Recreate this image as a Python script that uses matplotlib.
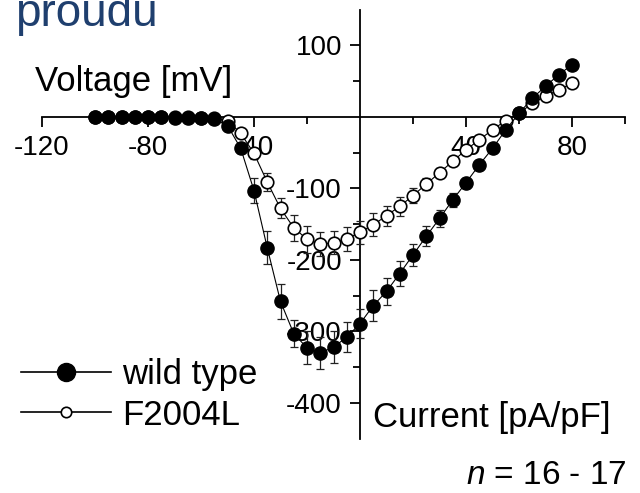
import matplotlib.pyplot as plt
import numpy as np
from matplotlib.lines import Line2D

plt.rcParams['font.family'] = ['Liberation Sans', 'DejaVu Sans']
plt.rcParams['mathtext.fontset'] = 'custom'
plt.rcParams['mathtext.it'] = 'Liberation Sans:italic'
plt.rcParams['mathtext.rm'] = 'Liberation Sans'
plt.rcParams['axes.unicode_minus'] = False

# membrane voltage steps (mV)
voltage = np.arange(-100, 85, 5)

# current density (pA/pF)
wt_current = [0, 0, 0, 0, 0, 0, -1, -1, -2, -3,
              -12, -44, -103, -183, -258, -303, -323, -330, -322, -308,
              -289, -264, -244, -219, -193, -167, -142, -116, -92, -67,
              -44, -18, 5, 26, 43, 59, 73]
wt_err = [2] * 10 + [4, 6, 17, 23, 25, 19, 23, 22, 22, 21,
                     20, 22, 19, 17, 16, 14, 12, 10, 7, 6,
                     5, 4, 4, 4, 4, 4, 4]

mut_current = [0, 0, 0, 0, 0, 0, 0, 0, -1, -2,
               -5, -23, -51, -91, -128, -155, -171, -178, -176, -171,
               -161, -151, -138, -125, -110, -94, -78, -62, -46, -32,
               -18, -5, 5, 19, 29, 38, 47]
mut_err = [2] * 10 + [3, 5, 8, 13, 14, 18, 19, 17, 16, 17,
                      16, 16, 14, 13, 10, 8, 6, 5, 4, 4,
                      4, 4, 4, 4, 4, 4, 4]

series_names = ['wild type', 'F2004L']

fig = plt.figure(figsize=(6.4, 4.93), dpi=100)
ax = fig.add_axes([42 / 640, (493 - 438.7) / 493, 583 / 640, 429 / 493])
ax.set_xlim(-120, 100)
ax.set_ylim(-450, 150)

# mutant first, wild type drawn over it (hides the flat part)
ax.errorbar(voltage, mut_current, yerr=mut_err, fmt='none', ecolor='#222222',
            elinewidth=0.9, capsize=3, capthick=0.9, zorder=3)
ax.plot(voltage, mut_current, '-o', color='black', lw=0.8, ms=9,
        mfc='white', mec='black', mew=1.2, zorder=4)
ax.errorbar(voltage, wt_current, yerr=wt_err, fmt='none', ecolor='#222222',
            elinewidth=0.9, capsize=3, capthick=0.9, zorder=5)
ax.plot(voltage, wt_current, '-o', color='black', lw=0.8, ms=9.5,
        mfc='black', mec='black', zorder=6)

# axes crossing at the origin
for s in ['top', 'right']:
    ax.spines[s].set_visible(False)
ax.spines['left'].set_position(('data', 0))
ax.spines['bottom'].set_position(('data', 0))
ax.spines['left'].set_bounds(-450, 150)
ax.spines['bottom'].set_bounds(-120, 100)
for s in ['left', 'bottom']:
    ax.spines[s].set_linewidth(1.3)

ax.set_xticks([-120, -80, -40, 40, 80])
ax.set_xticks([-100, -60, -20, 20, 60, 100], minor=True)
ax.set_yticks([100, -100, -200, -300, -400])
ax.set_yticks([50, -50, -150, -250, -350], minor=True)
ax.tick_params(which='major', direction='out', length=7, width=1.3,
               labelsize=20, pad=6)
ax.tick_params(which='minor', direction='out', length=5, width=1.3)
ax.patch.set_visible(False)

fig.text(35 / 640, 1 - 91 / 493, 'Voltage [mV]', fontsize=25, va='baseline')
fig.text(373 / 640, 1 - 427 / 493, 'Current [pA/pF]', fontsize=25,
         va='baseline')
fig.text(627 / 640, 1 - 484 / 493, '$n$ = 16 - 17', fontsize=24,
         ha='right', va='baseline')
fig.text(15 / 640, 1 - 26 / 493, 'proudu', fontsize=33, color='#1F3F6E',
         va='baseline')

handles = [
    Line2D([], [], color='black', lw=1.2, marker='o', ms=13, mfc='black'),
    Line2D([], [], color='black', lw=1.2, marker='o', ms=7.5, mfc='white',
           mew=1.2),
]
fig.legend(handles, series_names, loc='upper left',
           bbox_to_anchor=(21 / 640, 1 - 358 / 493), frameon=False,
           fontsize=25, handlelength=2.6, handletextpad=0.3,
           labelspacing=0.22, borderpad=0, borderaxespad=0)

fig.savefig('out.png', dpi=100)
